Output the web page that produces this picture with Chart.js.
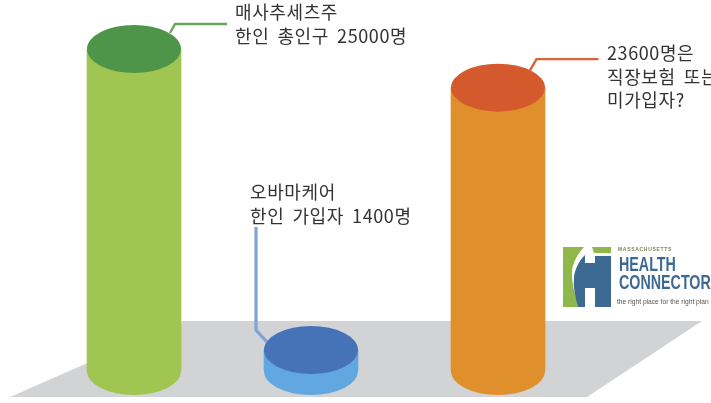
<!DOCTYPE html>
<html>
<head>
<title>Health Connector</title>
<script src="https://cdn.jsdelivr.net/npm/chart.js"></script>
<style>
  body{ margin:0; background:#fff; overflow:hidden; }
  #wrap{ position:relative; width:711px; height:403px; overflow:hidden; font-family:"Noto Sans CJK KR", sans-serif; filter:blur(0.5px); }
  canvas{ position:absolute; left:0; top:0; }
  .note{ position:absolute; font-size:18px; line-height:23.5px; letter-spacing:.6px; word-spacing:3.5px; color:#333; white-space:nowrap; }
  #logo{ position:absolute; left:563px; top:247px; }
  .lg{ position:absolute; white-space:nowrap; color:#3d6a92; font-family:"Liberation Sans",sans-serif; font-weight:700; transform-origin:left top; }
</style>
</head>
<body>
<div id="wrap">
  <canvas id="chart" width="711" height="403"></canvas>
  <div class="note" style="left:235px;top:0px">매사추세츠주<br>한인 총인구 25000명</div>
  <div class="note" style="left:250px;top:180px">오바마케어<br>한인 가입자 1400명</div>
  <div class="note" style="left:607px;top:41px">23600명은<br>직장보험 또는<br>미가입자?</div>
  <svg id="logo" width="50" height="60" viewBox="0 0 50 60">
    <path d="M0 0H21C12 10 8 20 9 30C10 42 13 50 15 60H0Z" fill="#8fb749"/>
    <path d="M29 0H48V6H31Z" fill="#8fb749"/>
    <path d="M22 8V16H32V9H48V60H32V41H22V60H15C12 50 10 40 11 30C12 22 16 14 22 8Z" fill="#3d6a92"/>
  </svg>
  <div class="lg" style="left:618px;top:246px;font-size:5px;letter-spacing:.7px;color:#7c8b4d">MASSACHUSETTS</div>
  <div class="lg" style="left:619px;top:252px;font-size:21px;line-height:24px;transform:scaleX(.68)">HEALTH</div>
  <div class="lg" style="left:619px;top:270px;font-size:21px;line-height:24px;transform:scaleX(.68)">CONNECTOR</div>
  <div class="lg" style="left:617px;top:298px;font-size:7px;font-weight:400;color:#555;transform:scaleX(.95)">the right place for the right plan</div>
</div>
<script>
// numbers printed in the graphic are in the labels above
// the graphic is not drawn to scale, so these are the heights as they look
const categories = ['매사추세츠주 한인 총인구', '오바마케어 한인 가입자', '직장보험 또는 미가입자'];
const drawnValues = [25000, 1630, 22000];
const bodyColors = ['#a0c550', '#62a8e0', '#df8f2b'];
const topColors = ['#4f9549', '#4673b8', '#d4592c'];
const lineColors = ['#6aa55f', '#7fa3d4', '#d9633a'];

const RY = 24;
const BAR_W = 94;
const xNudge = [0, -5, 0]; // the three columns are not quite evenly spaced

function ellipse(ctx, x, y, color) {
    ctx.fillStyle = color;
    ctx.beginPath();
    ctx.ellipse(x, y, BAR_W / 2, RY, 0, 0, Math.PI * 2);
    ctx.fill();
}

const floorPlugin = {
    id: 'floor',
    beforeDatasetsDraw(chart) {
        const ctx = chart.ctx;
        ctx.save();
        ctx.fillStyle = '#d1d3d4';
        ctx.beginPath();
        ctx.moveTo(10, 397);
        ctx.lineTo(183, 321);
        ctx.lineTo(702, 321);
        ctx.lineTo(587, 397);
        ctx.closePath();
        ctx.fill();
        // round bottoms under the bar bodies
        chart.getDatasetMeta(0).data.forEach((bar, i) => {
            ellipse(ctx, bar.x, bar.base, bodyColors[i]);
        });
        ctx.restore();
    }
};

const capPlugin = {
    id: 'caps',
    afterDatasetsUpdate(chart) {
        chart.getDatasetMeta(0).data.forEach((bar, i) => { bar.x += xNudge[i]; });
    },
    afterDatasetsDraw(chart) {
        const ctx = chart.ctx;
        const bars = chart.getDatasetMeta(0).data;
        ctx.save();
        bars.forEach((bar, i) => {
            ellipse(ctx, bar.x, bar.y, topColors[i]);
        });
        // leader lines go from each cap to its note
        const leaders = [
            [[36, -16], [41, -25], [93, -25]],
            [[-44, -8], [-55, -20], [-55, -123]],
            [[31.5, -16.5], [38.5, -28.5], [100.5, -28.5]]
        ];
        const widths = [2.4, 3.2, 2.4];
        leaders.forEach((pts, i) => {
            ctx.strokeStyle = lineColors[i];
            ctx.lineWidth = widths[i];
            ctx.beginPath();
            pts.forEach((p, k) => {
                const px = bars[i].x + p[0], py = bars[i].y + p[1];
                if (k === 0) ctx.moveTo(px, py); else ctx.lineTo(px, py);
            });
            ctx.stroke();
        });
        ctx.restore();
    }
};

new Chart(document.getElementById('chart').getContext('2d'), {
    type: 'bar',
    data: {
        labels: categories,
        datasets: [{
            data: drawnValues,
            backgroundColor: bodyColors,
            borderWidth: 0,
            barThickness: BAR_W
        }]
    },
    options: {
        responsive: false,
        animation: false,
        layout: { padding: { left: 43, right: 122, top: 49, bottom: 32 } },
        plugins: { legend: { display: false }, tooltip: { enabled: false } },
        scales: {
            x: { display: false },
            y: { display: false, min: 0, max: 25000 }
        }
    },
    plugins: [floorPlugin, capPlugin]
});
</script>
</body>
</html>
